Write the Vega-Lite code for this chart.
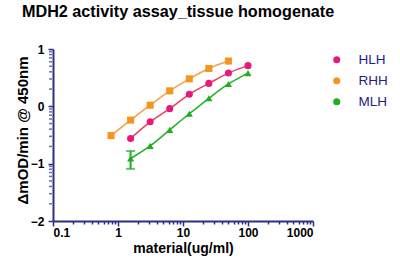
{
  "$schema": "https://vega.github.io/schema/vega-lite/v6.json",
  "width": 260,
  "height": 172,
  "autosize": "none",
  "padding": {"left": 53, "top": 49, "right": 87, "bottom": 52},
  "background": "white",
  "title": {
    "text": "MDH2 activity assay_tissue homogenate",
    "anchor": "start",
    "frame": "group",
    "dx": -31,
    "offset": 23,
    "font": "Liberation Sans",
    "fontSize": 16.2,
    "fontWeight": "bold",
    "color": "#000000"
  },
  "config": {
    "view": {"stroke": null},
    "axis": {
      "labelFont": "Liberation Sans",
      "labelFontWeight": "bold",
      "labelFontSize": 12,
      "labelColor": "#000000",
      "titleFont": "Liberation Sans",
      "titleFontWeight": "bold",
      "titleFontSize": 13,
      "titleColor": "#000000",
      "domainColor": "#2b2f86",
      "domainWidth": 2,
      "tickColor": "#2b2f86",
      "tickWidth": 1.5,
      "grid": false
    }
  },
  "datasets": {
    "pts": [
      {"series": "RHH", "x": 0.78125, "y": -0.51},
      {"series": "RHH", "x": 1.5625, "y": -0.24},
      {"series": "RHH", "x": 3.125, "y": 0.02},
      {"series": "RHH", "x": 6.25, "y": 0.27},
      {"series": "RHH", "x": 12.5, "y": 0.48},
      {"series": "RHH", "x": 25, "y": 0.66},
      {"series": "RHH", "x": 50, "y": 0.79},
      {"series": "HLH", "x": 1.5625, "y": -0.56},
      {"series": "HLH", "x": 3.125, "y": -0.27},
      {"series": "HLH", "x": 6.25, "y": -0.04},
      {"series": "HLH", "x": 12.5, "y": 0.21},
      {"series": "HLH", "x": 25, "y": 0.40},
      {"series": "HLH", "x": 50, "y": 0.58},
      {"series": "HLH", "x": 100, "y": 0.71},
      {"series": "MLH", "x": 1.5625, "y": -0.91},
      {"series": "MLH", "x": 3.125, "y": -0.69},
      {"series": "MLH", "x": 6.25, "y": -0.41},
      {"series": "MLH", "x": 12.5, "y": -0.13},
      {"series": "MLH", "x": 25, "y": 0.14},
      {"series": "MLH", "x": 50, "y": 0.39},
      {"series": "MLH", "x": 100, "y": 0.58}
    ],
    "err": [
      {"series": "MLH", "x": 1.5625, "lo": -1.09, "hi": -0.78}
    ],
    "minor": [
      {"x": 0.1, "y": -1.699}, {"x": 0.1, "y": -1.523}, {"x": 0.1, "y": -1.398}, {"x": 0.1, "y": -1.301},
      {"x": 0.1, "y": -1.222}, {"x": 0.1, "y": -1.155}, {"x": 0.1, "y": -1.097}, {"x": 0.1, "y": -1.046},
      {"x": 0.1, "y": -0.699}, {"x": 0.1, "y": -0.523}, {"x": 0.1, "y": -0.398}, {"x": 0.1, "y": -0.301},
      {"x": 0.1, "y": -0.222}, {"x": 0.1, "y": -0.155}, {"x": 0.1, "y": -0.097}, {"x": 0.1, "y": -0.046},
      {"x": 0.1, "y": 0.301}, {"x": 0.1, "y": 0.477}, {"x": 0.1, "y": 0.602}, {"x": 0.1, "y": 0.699},
      {"x": 0.1, "y": 0.778}, {"x": 0.1, "y": 0.845}, {"x": 0.1, "y": 0.903}, {"x": 0.1, "y": 0.954}
    ]
  },
  "layer": [
    {
      "data": {"name": "pts"},
      "mark": {"type": "line", "interpolate": "monotone", "strokeWidth": 1.5},
      "encoding": {
        "x": {
          "field": "x", "type": "quantitative",
          "scale": {"type": "log", "domain": [0.1, 1000]},
          "axis": {
            "title": "material(ug/ml)",
            "titleFontSize": 14,
            "titlePadding": 3,
            "labelOverlap": false,
            "values": [0.1,0.2,0.3,0.4,0.5,0.6,0.7,0.8,0.9,1,2,3,4,5,6,7,8,9,10,20,30,40,50,60,70,80,90,100,200,300,400,500,600,700,800,900,1000],
            "labelExpr": "indexof(['0.1','1','10','100','1000'], format(datum.value, '')) >= 0 ? format(datum.value, '') : ''",
            "tickSize": {"condition": {"test": "indexof([0.1,1,10,100,1000], datum.value) >= 0", "value": 5}, "value": 3},
            "labelPadding": 1
          }
        },
        "y": {
          "field": "y", "type": "quantitative",
          "scale": {"domain": [-2, 1]},
          "axis": {
            "title": "ΔmOD/min @ 450nm",
            "titleFontSize": 15,
            "titleX": -23,
            "titleY": 81,
            "values": [-2, -1, 0, 1],
            "format": "d",
            "tickSize": 5,
            "labelPadding": 4
          }
        },
        "detail": {"field": "series"},
        "stroke": {
          "field": "series", "type": "nominal",
          "scale": {"domain": ["HLH", "RHH", "MLH"], "range": ["#ea3f5a", "#f5a04a", "#22b022"]},
          "legend": null
        }
      }
    },
    {
      "data": {"name": "minor"},
      "mark": {"type": "tick", "orient": "horizontal", "color": "#2b2f86", "thickness": 1.5, "size": 3, "xOffset": -2.5},
      "encoding": {
        "x": {"field": "x", "type": "quantitative"},
        "y": {"field": "y", "type": "quantitative"}
      }
    },
    {
      "data": {"name": "err"},
      "mark": {"type": "rule", "color": "#1fae1f", "strokeWidth": 2},
      "encoding": {
        "x": {"field": "x", "type": "quantitative"},
        "y": {"field": "lo", "type": "quantitative"},
        "y2": {"field": "hi"}
      }
    },
    {
      "data": {"name": "err"},
      "mark": {"type": "tick", "color": "#1fae1f", "thickness": 2, "size": 9, "orient": "horizontal"},
      "encoding": {
        "x": {"field": "x", "type": "quantitative"},
        "y": {"field": "lo", "type": "quantitative"}
      }
    },
    {
      "data": {"name": "err"},
      "mark": {"type": "tick", "color": "#1fae1f", "thickness": 2, "size": 9, "orient": "horizontal"},
      "encoding": {
        "x": {"field": "x", "type": "quantitative"},
        "y": {"field": "hi", "type": "quantitative"}
      }
    },
    {
      "data": {"name": "pts"},
      "mark": {"type": "point", "filled": true, "opacity": 1, "size": 50},
      "encoding": {
        "x": {"field": "x", "type": "quantitative"},
        "y": {"field": "y", "type": "quantitative"},
        "color": {
          "field": "series", "type": "nominal",
          "scale": {"domain": ["HLH", "RHH", "MLH"], "range": ["#e8197a", "#f7941d", "#1fae1f"]},
          "legend": {
            "title": null,
            "orient": "none",
            "legendX": 277,
            "legendY": 4,
            "padding": 0,
            "rowPadding": 6,
            "symbolSize": 50,
            "symbolOpacity": 1,
            "labelFont": "Liberation Sans",
            "labelFontSize": 13.5,
            "labelColor": "#1f2280",
            "labelOffset": 15
          }
        },
        "shape": {
          "field": "series", "type": "nominal",
          "scale": {"domain": ["HLH", "RHH", "MLH"], "range": ["circle", "square", "triangle-up"]}
        }
      }
    }
  ],
  "resolve": {"scale": {"color": "independent"}}
}
